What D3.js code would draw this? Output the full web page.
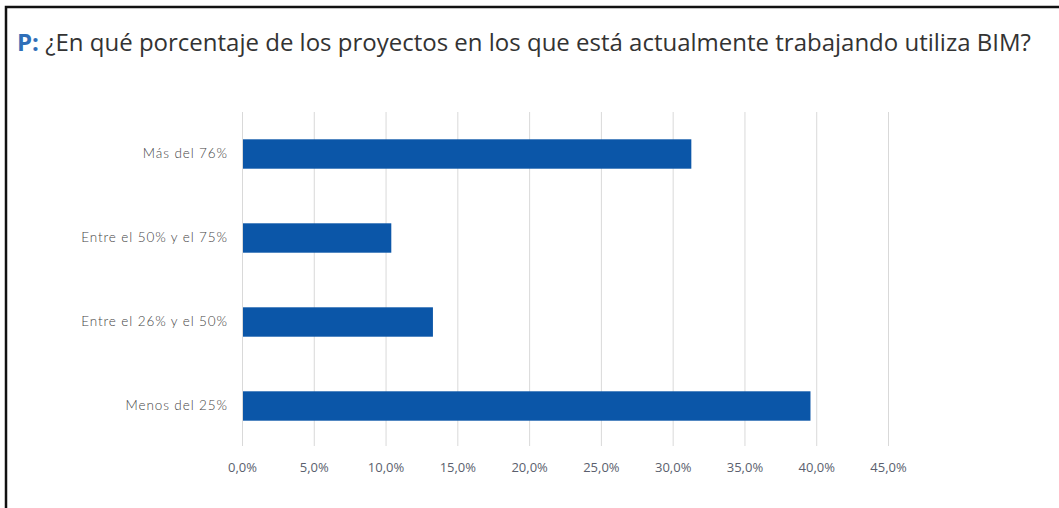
<!DOCTYPE html>
<html>
<head>
<meta charset="utf-8">
<script src="https://cdn.jsdelivr.net/npm/d3@7"></script>
<style>
  body { margin: 0; background: #fff; }
  svg { display: block; }
</style>
</head>
<body>
<div id="vis"></div>
<script>
// data
const CATEGORIES = ['Más del 76%', 'Entre el 50% y el 75%', 'Entre el 26% y el 50%', 'Menos del 25%'];
const VALUES = [0.313, 0.104, 0.133, 0.396];
const TICKS = [0, 0.05, 0.10, 0.15, 0.20, 0.25, 0.30, 0.35, 0.40, 0.45];
const TITLE_PREFIX = 'P:';
const TITLE_TEXT = ' ¿En qué porcentaje de los proyectos en los que está actualmente trabajando utiliza BIM?';

const FRAME_WIDTH = 1059;
const FRAME_HEIGHT = 508;
const PLOT = {left: 242, right: 888, top: 112, bottom: 448};

const FRAME = d3.select('#vis')
    .append('svg')
        .attr('width', FRAME_WIDTH)
        .attr('height', FRAME_HEIGHT);

// border on the left and top only
FRAME.append('path')
    .attr('d', 'M6,' + FRAME_HEIGHT + 'V7H' + FRAME_WIDTH)
    .attr('fill', 'none')
    .attr('stroke', '#111')
    .attr('stroke-width', 2.5);

// title
const title = FRAME.append('text')
    .attr('x', 17)
    .attr('y', 51)
    .attr('font-family', 'Open Sans, sans-serif')
    .attr('font-size', '24px')
    .attr('fill', '#333');
title.append('tspan')
    .attr('fill', '#2f6fb8')
    .attr('font-weight', 'bold')
    .text(TITLE_PREFIX);
title.append('tspan').text(TITLE_TEXT);

// scales
const X_SCALE = d3.scaleLinear()
    .domain([0, 0.45])
    .range([PLOT.left, PLOT.right]);

const Y_SCALE = d3.scaleBand()
    .domain(CATEGORIES)
    .range([PLOT.top, PLOT.bottom])
    .paddingInner(0.65)
    .paddingOuter(0.325);

// vertical grid lines with ticks below
FRAME.append('g')
    .attr('transform', 'translate(0,' + (PLOT.bottom - 2) + ')')
    .call(d3.axisBottom(X_SCALE)
        .tickValues(TICKS)
        .tickSize(-(PLOT.bottom - 2 - PLOT.top))
        .tickFormat(''))
    .call(g => g.select('.domain').remove())
    .call(g => g.selectAll('line').attr('stroke', '#d9d9d9'));

// x tick labels
FRAME.append('g')
    .attr('transform', 'translate(0,' + (PLOT.bottom + 12) + ')')
    .call(d3.axisBottom(X_SCALE)
        .tickValues(TICKS)
        .tickSize(0)
        .tickFormat(d => d3.format('.1f')(d * 100).replace('.', ',') + '%'))
    .call(g => g.select('.domain').remove())
    .call(g => g.selectAll('text')
        .attr('font-family', 'Open Sans, sans-serif')
        .attr('font-size', '13px')
        .attr('fill', '#5b5f6e'));

// bars
FRAME.selectAll('.bar')
    .data(VALUES)
    .enter()
    .append('rect')
    .attr('class', 'bar')
    .attr('x', X_SCALE(0) + 1)
    .attr('y', (d, i) => Y_SCALE(CATEGORIES[i]))
    .attr('width', d => X_SCALE(d) - X_SCALE(0) - 1)
    .attr('height', Y_SCALE.bandwidth())
    .attr('fill', '#0b56a8');

// category labels
FRAME.append('g')
    .attr('transform', 'translate(' + (PLOT.left - 11) + ',0)')
    .call(d3.axisLeft(Y_SCALE).tickSize(0))
    .call(g => g.select('.domain').remove())
    .call(g => g.selectAll('text')
        .attr('font-family', 'Lato, sans-serif')
        .attr('font-size', '13.5px')
        .attr('letter-spacing', '0.9px')
        .attr('font-weight', 300)
        .attr('fill', '#444'));
</script>
</body>
</html>
